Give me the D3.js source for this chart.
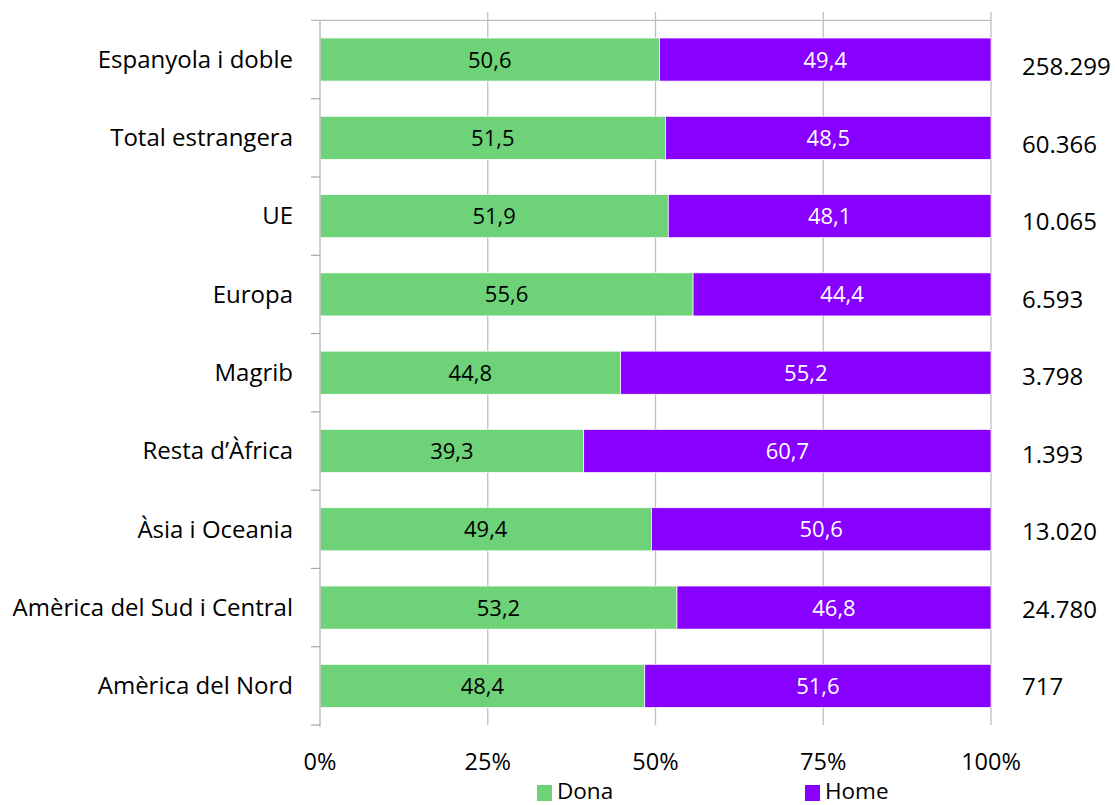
<!DOCTYPE html>
<html><head><meta charset="utf-8">
<script src="https://cdn.jsdelivr.net/npm/d3@7"></script>
<style>body{margin:0;background:#fff}svg{display:block}text{font-family:"Open Sans",sans-serif}</style>
</head><body>
<svg id="c" width="1115" height="805"></svg>
<script>
const categories = ["Espanyola i doble","Total estrangera","UE","Europa","Magrib","Resta d’Àfrica","Àsia i Oceania","Amèrica del Sud i Central","Amèrica del Nord"];
const dona = [50.6,51.5,51.9,55.6,44.8,39.3,49.4,53.2,48.4];
const home = [49.4,48.5,48.1,44.4,55.2,60.7,50.6,46.8,51.6];
const totals = ["258.299","60.366","10.065","6.593","3.798","1.393","13.020","24.780","717"];
const xTicks = [0,25,50,75,100];
const seriesNames = ["Dona","Home"];
const colors = ["#6DD278","#8800FF"];

const svg = d3.select("#c");
const L=320,R=991,T=20.4,B=725;
const x = d3.scaleLinear().domain([0,100]).range([L,R]);
const y = d3.scaleBand().domain(categories).range([T,B]).paddingInner(0.45).paddingOuter(0.225);
const yTot = d3.scalePoint().domain(categories).range([75,695]);
const cy = c => y(c)+y.bandwidth()/2;

// grid
svg.append("g").selectAll("line").data(xTicks.slice(1)).join("line")
  .attr("x1",d=>x(d)).attr("x2",d=>x(d)).attr("y1",12).attr("y2",B)
  .attr("stroke","#BFBFBF").attr("stroke-width",1.3);
svg.append("line").attr("x1",311).attr("x2",R).attr("y1",T).attr("y2",T).attr("stroke","#BFBFBF").attr("stroke-width",1.3);

// bars
const rows = categories.map((c,i)=>({c,d:dona[i],h:home[i],t:totals[i]}));
const g = svg.append("g");
g.selectAll("rect.d").data(rows).join("rect")
  .attr("x",x(0)).attr("y",d=>y(d.c)).attr("width",d=>x(d.d)-x(0)).attr("height",y.bandwidth())
  .attr("fill",colors[0]).attr("stroke","#fff").attr("stroke-width",0.7);
g.selectAll("rect.h").data(rows).join("rect")
  .attr("x",d=>x(d.d)).attr("y",d=>y(d.c)).attr("width",d=>x(100)-x(d.d)).attr("height",y.bandwidth())
  .attr("fill",colors[1]).attr("stroke","#fff").attr("stroke-width",0.7);

const fmt = v => v.toFixed(1).replace(".",",");
g.selectAll("text.dl").data(rows).join("text")
  .attr("x",d=>x(d.d/2)).attr("y",d=>cy(d.c)+8)
  .attr("text-anchor","middle").attr("font-size",22).attr("fill","#000").text(d=>fmt(d.d));
g.selectAll("text.hl").data(rows).join("text")
  .attr("x",d=>x(d.d+d.h/2)).attr("y",d=>cy(d.c)+8)
  .attr("text-anchor","middle").attr("font-size",22).attr("fill","#fff").text(d=>fmt(d.h));
g.selectAll("text.tl").data(rows).join("text")
  .attr("x",1022).attr("y",d=>yTot(d.c))
  .attr("font-size",24).attr("fill","#000").text(d=>d.t);

// left axis
const step = y.step();
svg.append("line").attr("x1",L).attr("x2",L).attr("y1",T).attr("y2",B+2).attr("stroke","#BFBFBF").attr("stroke-width",1.5);
const bounds = d3.range(1,categories.length+1).map(i=>T+i*step);
svg.append("g").selectAll("line").data(bounds).join("line")
  .attr("x1",311).attr("x2",L).attr("y1",d=>d).attr("y2",d=>d).attr("stroke","#A6A6A6").attr("stroke-width",1.2);
svg.append("g").selectAll("text").data(categories).join("text")
  .attr("x",293).attr("y",d=>cy(d)+8.3)
  .attr("text-anchor","end").attr("font-size",24).attr("fill","#000").text(d=>d);

// x axis labels
svg.append("g").selectAll("text").data(xTicks).join("text")
  .attr("x",d=>x(d)).attr("y",770).attr("text-anchor","middle")
  .attr("font-size",23.5).attr("fill","#000").text(d=>d+"%");

// legend
const legX=[537,805];
const lg = svg.append("g").selectAll("g").data(seriesNames).join("g")
  .attr("transform",(d,i)=>`translate(${legX[i]},785)`);
lg.append("rect").attr("width",15).attr("height",16).attr("fill",(d,i)=>colors[i]);
lg.append("text").attr("x",20).attr("y",13.5).attr("font-size",22.5).attr("fill","#000").text(d=>d);
</script>
</body></html>
